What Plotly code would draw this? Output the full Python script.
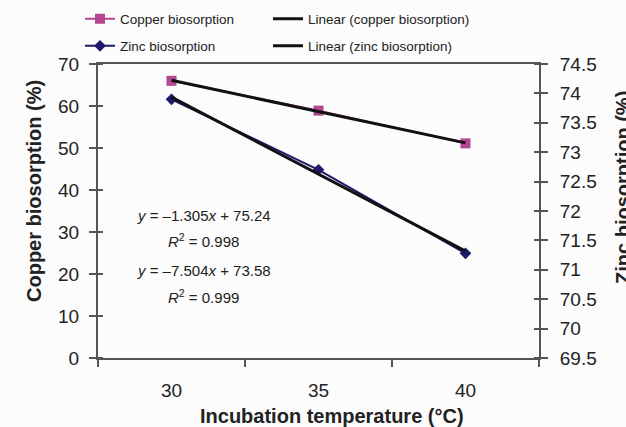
import numpy as np
import plotly.graph_objects as go

temps = ["30", "35", "40"]
copper = [66.0, 58.9, 51.1]
zinc = [73.90, 72.70, 71.28]
left_ticks = [0, 10, 20, 30, 40, 50, 60, 70]
right_ticks = [69.5, 70, 70.5, 71, 71.5, 72, 72.5, 73, 73.5, 74, 74.5]
eq_copper_txt = "<i>y</i> = \u20137.504<i>x</i> + 73.58"
r2_copper_txt = "<i>R</i><sup>2</sup> = 0.999"
eq_zinc_txt = "<i>y</i> = \u20131.305<i>x</i> + 75.24"
r2_zinc_txt = "<i>R</i><sup>2</sup> = 0.998"

W, H = 626, 427
L, R, T, B = 98, 87, 64, 69
pw, ph = W - L - R, H - T - B
FONT = "Liberation Sans, Arial, sans-serif"
PINK = "#B2468F"
NAVY = "#1E1A6B"
AX = "#555555"
TXT = "#222222"

def px2paper(px, py):
    return (px - L) / pw, 1 - (py - T) / ph

idx = np.arange(1, len(temps) + 1)
cu_fit = np.polyval(np.polyfit(idx, copper, 1), idx)
zn_fit = np.polyval(np.polyfit(idx, zinc, 1), idx)

fig = go.Figure()
fig.add_trace(go.Scatter(x=temps, y=copper, name="Copper biosorption", mode="lines+markers",
                         line=dict(color=PINK, width=2), marker=dict(symbol="square", size=10, color=PINK),
                         legend="legend"))
fig.add_trace(go.Scatter(x=temps, y=zinc, name="Zinc biosorption", mode="lines+markers", yaxis="y2",
                         line=dict(color=NAVY, width=2), marker=dict(symbol="diamond", size=9, color=NAVY),
                         legend="legend2"))
fig.add_trace(go.Scatter(x=temps, y=cu_fit, name="Linear (copper biosorption)", mode="lines",
                         line=dict(color="#111111", width=3), legend="legend3"))
fig.add_trace(go.Scatter(x=temps, y=zn_fit, name="Linear (zinc biosorption)", mode="lines", yaxis="y2",
                         line=dict(color="#111111", width=3), legend="legend4"))

def leg(px, py):
    lx, ly = px2paper(px, py)
    return dict(x=lx, y=ly, xref="paper", yref="paper", xanchor="left", yanchor="middle",
                bgcolor="rgba(0,0,0,0)", font=dict(family=FONT, size=13.5, color=TXT), itemwidth=30,
                visible=True)

ann = []
for txt, px, py in [(eq_zinc_txt, 204, 215), (r2_zinc_txt, 203, 240), (eq_copper_txt, 204, 270), (r2_copper_txt, 203, 296)]:
    ax_, ay_ = px2paper(px, py)
    ann.append(dict(text=txt, x=ax_, y=ay_, xref="paper", yref="paper", showarrow=False,
                    font=dict(family=FONT, size=15, color=TXT), xanchor="center", yanchor="middle"))
for txt, px, py, ang in [("<b>Copper biosorption (%)</b>", 34, 191, -90),
                         ("<b>Zinc biosorption (%)</b>", 623, 188, -90),
                         ("<b>Incubation temperature (\u00b0C)</b>", 332, 416, 0)]:
    ax_, ay_ = px2paper(px, py)
    ann.append(dict(text=txt, x=ax_, y=ay_, xref="paper", yref="paper", textangle=ang, showarrow=False,
                    font=dict(family=FONT, size=20, color=TXT), xanchor="center", yanchor="middle"))

tickfont = dict(family=FONT, size=19, color=TXT)
fig.update_layout(
    width=W, height=H, margin=dict(l=L, r=R, t=T, b=B, autoexpand=False),
    paper_bgcolor="#fcfcfc", plot_bgcolor="#fcfcfc", showlegend=True,
    legend=leg(80, 19), legend2=leg(80, 46), legend3=leg(268, 19), legend4=leg(268, 46),
    annotations=ann,
    xaxis=dict(type="category", range=[-0.5, 2.5], tickson="boundaries", ticks="outside", ticklen=7,
               tickcolor=AX, tickwidth=1.5, showline=True, linecolor=AX, linewidth=2, mirror=True,
               showgrid=False, tickfont=tickfont, ticklabelstandoff=14, automargin=False),
    yaxis=dict(range=[0, 70], tickvals=left_ticks, ticks="outside", ticklen=7, tickcolor=AX, tickwidth=1.5,
               minor=dict(tickvals=left_ticks, ticks="inside", ticklen=5, tickcolor=AX, tickwidth=1.5),
               showline=True, linecolor=AX, linewidth=2, showgrid=False, zeroline=False, tickfont=tickfont,
               ticklabelstandoff=6, automargin=False),
    yaxis2=dict(range=[69.5, 74.5], tickvals=right_ticks, ticktext=[f"{v:g}" for v in right_ticks],
                overlaying="y", side="right", ticks="outside", ticklen=7, tickcolor=AX, tickwidth=1.5,
                minor=dict(tickvals=right_ticks, ticks="inside", ticklen=5, tickcolor=AX, tickwidth=1.5),
                showline=True, linecolor=AX, linewidth=2, showgrid=False, zeroline=False, tickfont=tickfont,
                ticklabelstandoff=8, automargin=False),
)
fig.write_html("out.html")
